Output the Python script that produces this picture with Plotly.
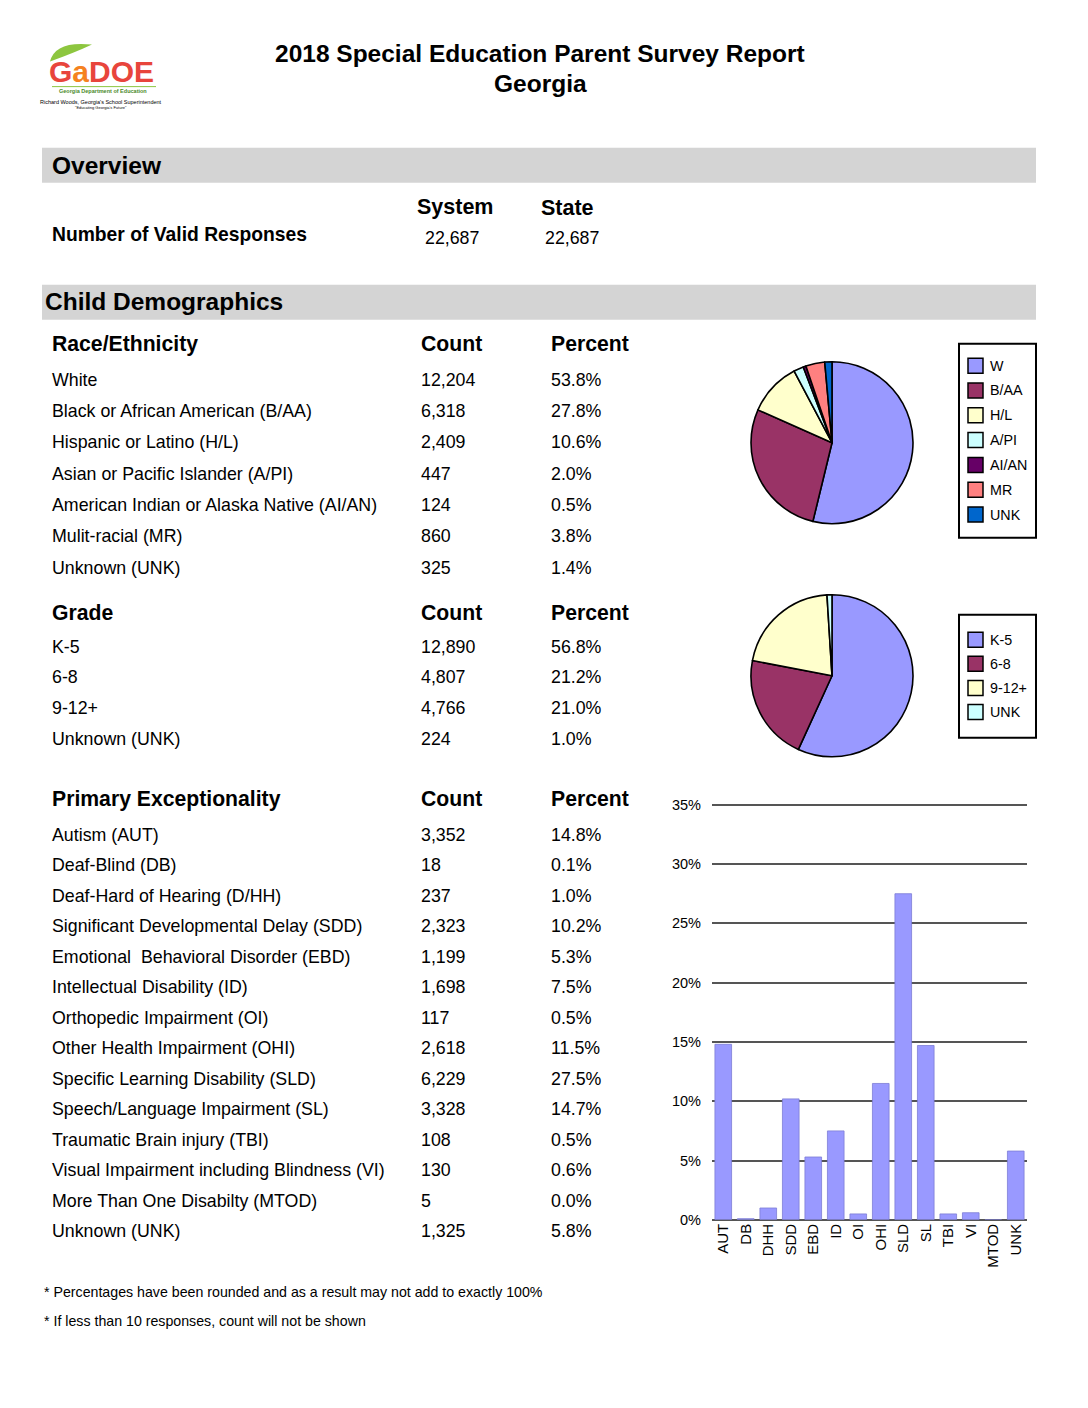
import plotly.graph_objects as go

W = 1088
HF = 1392          # figure height
# empirical mapping of the screenshot: screen_y = A + B * figure_y
MAP_A = 3.4
MAP_B = 0.9919
FONT = "Liberation Sans, Arial, sans-serif"


def px(x):
    return x / W


def py(y):
    return 1 - ((y - MAP_A) / MAP_B) / HF


# ---------------- data ----------------
report_title = "2018 Special Education Parent Survey Report"
report_place = "Georgia"
system_responses = 22687
state_responses = 22687

race_labels = ["White", "Black or African American (B/AA)", "Hispanic or Latino (H/L)",
               "Asian or Pacific Islander (A/PI)", "American Indian or Alaska Native (AI/AN)",
               "Mulit-racial (MR)", "Unknown (UNK)"]
race_abbr = ["W", "B/AA", "H/L", "A/PI", "AI/AN", "MR", "UNK"]
race_counts = [12204, 6318, 2409, 447, 124, 860, 325]
race_pct = [53.8, 27.8, 10.6, 2.0, 0.5, 3.8, 1.4]
race_colors = ["#9999ff", "#993366", "#ffffcc", "#ccffff", "#660066", "#ff8080", "#0066cc"]

grade_labels = ["K-5", "6-8", "9-12+", "Unknown (UNK)"]
grade_abbr = ["K-5", "6-8", "9-12+", "UNK"]
grade_counts = [12890, 4807, 4766, 224]
grade_pct = [56.8, 21.2, 21.0, 1.0]
grade_colors = ["#9999ff", "#993366", "#ffffcc", "#ccffff"]

exc_labels = ["Autism (AUT)", "Deaf-Blind (DB)", "Deaf-Hard of Hearing (D/HH)",
              "Significant Developmental Delay (SDD)", "Emotional  Behavioral Disorder (EBD)",
              "Intellectual Disability (ID)", "Orthopedic Impairment (OI)",
              "Other Health Impairment (OHI)", "Specific Learning Disability (SLD)",
              "Speech/Language Impairment (SL)", "Traumatic Brain injury (TBI)",
              "Visual Impairment including Blindness (VI)", "More Than One Disabilty (MTOD)",
              "Unknown (UNK)"]
exc_abbr = ["AUT", "DB", "DHH", "SDD", "EBD", "ID", "OI", "OHI", "SLD", "SL", "TBI", "VI", "MTOD", "UNK"]
exc_counts = [3352, 18, 237, 2323, 1199, 1698, 117, 2618, 6229, 3328, 108, 130, 5, 1325]
exc_pct = [14.8, 0.1, 1.0, 10.2, 5.3, 7.5, 0.5, 11.5, 27.5, 14.7, 0.5, 0.6, 0.0, 5.8]

bar_ticks = [0, 5, 10, 15, 20, 25, 30, 35]
bar_tick_text = [f"{t}%" for t in bar_ticks]
bar_range = [0, 35.4]

footnotes = ["* Percentages have been rounded and as a result may not add to exactly 100%",
             "* If less than 10 responses, count will not be shown"]

# ---------------- figure ----------------
fig = go.Figure()

fig.add_trace(go.Pie(
    labels=race_abbr, values=race_counts, sort=False, direction="clockwise", rotation=0,
    marker=dict(colors=race_colors, line=dict(color="black", width=1.6)),
    textinfo="none", hoverinfo="label+percent",
    domain=dict(x=[px(751), px(913)], y=[py(524), py(362)]),
))
fig.add_trace(go.Pie(
    labels=grade_abbr, values=grade_counts, sort=False, direction="clockwise", rotation=0,
    marker=dict(colors=grade_colors, line=dict(color="black", width=1.6)),
    textinfo="none", hoverinfo="label+percent",
    domain=dict(x=[px(751), px(913)], y=[py(757), py(595)]),
))

fig.add_trace(go.Bar(
    x=exc_abbr, y=exc_pct, marker=dict(color="#9999ff", line=dict(color="#7c7cd6", width=0.8)),
    xaxis="x", yaxis="y", hovertemplate="%{x}: %{y}%<extra></extra>",
))

ann = []
shapes = []


def text(x, y, s, size=17, bold=False, xanchor="left", yanchor="middle", color="black"):
    if bold:
        s = "<b>" + s + "</b>"
    ann.append(dict(x=px(x), y=py(y), xref="paper", yref="paper", text=s, showarrow=False,
                    xanchor=xanchor, yanchor=yanchor, borderpad=0, borderwidth=0,
                    font=dict(family=FONT, size=size, color=color)))


# title
text(540, 54, report_title, size=24.5, bold=True, xanchor="center")
text(540, 84, report_place, size=24.5, bold=True, xanchor="center")

# logo (approximation)
shapes.append(dict(type="path", xref="paper", yref="paper",
                   path=f"M {px(50)},{py(62)} Q {px(55)},{py(41)} {px(92)},{py(45)} Q {px(75)},{py(53)} {px(50)},{py(62)} Z",
                   fillcolor="#8dc63f", line=dict(width=0)))
ann.append(dict(x=px(48), y=py(72), xref="paper", yref="paper", showarrow=False, xanchor="left",
                yanchor="middle", borderpad=0,
                text="<b><span style='color:#e8453c'>G</span><span style='color:#f58220'>a</span>"
                     "<span style='color:#e8453c'>DOE</span></b>",
                font=dict(family=FONT, size=30, color="#e8453c")))
shapes.append(dict(type="line", xref="paper", yref="paper", x0=px(52), x1=px(156), y0=py(87), y1=py(87),
                   line=dict(color="#8dc63f", width=1)))
text(103, 91, "<b>Georgia Department of Education</b>", size=5.5, xanchor="center", color="#4a8a2a")
text(101, 102, "Richard Woods, Georgia's School Superintendent", size=5.5, xanchor="center")
text(101, 108, "\"Educating Georgia's Future\"", size=4, xanchor="center")

# section bands
for y0, y1 in [(148, 183), (285, 320)]:
    shapes.append(dict(type="rect", xref="paper", yref="paper", x0=px(42), x1=px(1036), y0=py(y1), y1=py(y0),
                       fillcolor="#d4d4d4", line=dict(width=0), layer="below"))
text(52, 166, "Overview", size=24.5, bold=True)
text(45, 302, "Child Demographics", size=24.5, bold=True)

# overview
text(455, 207, "System", size=21.5, bold=True, xanchor="center")
text(567, 208, "State", size=21.5, bold=True, xanchor="center")
text(52, 235, "Number of Valid Responses", size=19.3, bold=True)
text(452, 238, f"{system_responses:,}", size=17.8, xanchor="center")
text(572, 238, f"{state_responses:,}", size=17.8, xanchor="center")


def table(header, labels, counts, pcts, y_head, y0, step):
    text(52, y_head, header, size=21.2, bold=True)
    text(421, y_head, "Count", size=21.2, bold=True)
    text(551, y_head, "Percent", size=21.2, bold=True)
    for i, (lab, c, p) in enumerate(zip(labels, counts, pcts)):
        y = y0 + i * step
        text(52, y, lab, size=17.8)
        text(421, y, f"{c:,}", size=17.8)
        text(551, y, f"{p:.1f}%", size=17.8)


table("Race/Ethnicity", race_labels, race_counts, race_pct, 344, 380, 31.3)
table("Grade", grade_labels, grade_counts, grade_pct, 613, 647, 30.7)
table("Primary Exceptionality", exc_labels, exc_counts, exc_pct, 799, 835, 30.5)


def legend_box(y0, y1, abbrs, colors, first, step):
    shapes.append(dict(type="rect", xref="paper", yref="paper", x0=px(959), x1=px(1036), y0=py(y1), y1=py(y0),
                       line=dict(color="black", width=2), fillcolor="white"))
    for i, (a, c) in enumerate(zip(abbrs, colors)):
        yc = first + i * step
        shapes.append(dict(type="rect", xref="paper", yref="paper", x0=px(968), x1=px(983),
                           y0=py(yc + 7.5), y1=py(yc - 7.5), fillcolor=c, line=dict(color="black", width=1.5)))
        text(990, yc, a, size=14.3)


legend_box(344, 538, race_abbr, race_colors, 366, 24.8)
legend_box(615, 738, grade_abbr, grade_colors, 640, 24.1)

# footnotes
text(44, 1292, footnotes[0], size=14.2)
text(44, 1321, footnotes[1], size=14.2)

# bar chart geometry: 0% at y=1220, 35% at y=805
unit = (1220 - 805) / 35
bar_top_px = 1220 - bar_range[1] * unit

fig.update_layout(
    width=W, height=HF, margin=dict(l=0, r=0, t=0, b=0),
    paper_bgcolor="white", plot_bgcolor="white", showlegend=False,
    annotations=ann, shapes=shapes, bargap=0.26,
    xaxis=dict(domain=[px(712), px(1027)], tickangle=-90, showgrid=False, showline=False,
               tickfont=dict(family=FONT, size=15, color="black"), ticks="", fixedrange=True),
    yaxis=dict(domain=[py(1220), py(bar_top_px)], range=bar_range, tickmode="array", tickvals=bar_ticks,
               ticktext=bar_tick_text,
               showgrid=True, gridcolor="#555555", gridwidth=2, zeroline=True, zerolinecolor="#555555",
               zerolinewidth=2, showline=False, tickfont=dict(family=FONT, size=14.5, color="black"),
               ticks="", ticklabelstandoff=10, fixedrange=True),
)

fig.write_html("out.html", config=dict(displayModeBar=False),
               post_script="document.body.style.margin='0';")
